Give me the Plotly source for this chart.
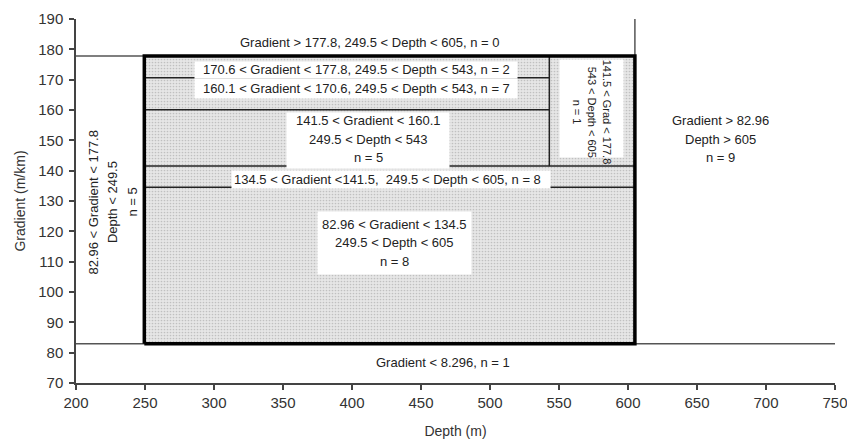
import plotly.graph_objects as go

# ---- data (region boundaries) ----
depth_min, depth_max = 200, 750
grad_min, grad_max = 70, 190
depth_edges = [249.5, 543, 605]          # box left, inner split, box right
grad_edges = [82.96, 134.5, 141.5, 160.1, 170.6, 177.8]

x_ticks = [200, 250, 300, 350, 400, 450, 500, 550, 600, 650, 700, 750]
y_ticks = [70, 80, 90, 100, 110, 120, 130, 140, 150, 160, 170, 180, 190]

labels = [
    # (lines, x, y, angle, font size, line gap px)
    (["Gradient > 177.8, 249.5 < Depth < 605, n = 0"], 413, 182.4, 0, 13, 18.5),
    (["170.6 < Gradient < 177.8, 249.5 < Depth < 543, n = 2"], 403, 173.3, 0, 13, 18.5),
    (["160.1 < Gradient < 170.6, 249.5 < Depth < 543, n = 7"], 403, 167.0, 0, 13, 18.5),
    (["141.5 < Gradient < 160.1", "249.5 < Depth < 543", "n = 5"], 411.6, 150.4, 0, 13, 18.5),
    (["134.5 < Gradient <141.5,  249.5 < Depth < 605, n = 8"], 426, 137.0, 0, 13, 18.5),
    (["82.96 < Gradient < 134.5", "249.5 < Depth < 605", "n = 8"], 431, 116.2, 0, 13, 18.5),
    (["141.5 < Grad < 177.8", "543 < Depth < 605", "n = 1"], 573.5, 159.3, 90, 11, 15),
    (["Gradient > 82.96", "Depth > 605", "n = 9"], 666.7, 150.4, 0, 13, 18.5),
    (["Gradient < 8.296, n = 1"], 466, 76.9, 0, 13, 18.5),
    (["82.96 < Gradient < 177.8", "Depth < 249.5", "n = 5"], 226.5, 129.5, -90, 13, 19.5),
]
# white label backgrounds: (x, y, width px, height px)
label_boxes = [
    (403, 173.3, 322, 16),
    (403, 167.0, 322, 19),
    (411.6, 150.0, 162, 55),
    (428, 137.0, 318, 17),
    (431, 116.2, 153, 62),
    (573.5, 160.6, 63, 97),
]

fig = go.Figure()

x0, xs, x1 = depth_edges
g0, g1, g2, g3, g4, g5 = grad_edges

# stippled box fill
fig.add_trace(go.Scatter(
    x=[x0, x1, x1, x0, x0], y=[g0, g0, g5, g5, g0],
    fill="toself", mode="none",
    fillcolor="#dcdcdc",
    fillpattern=dict(shape=".", bgcolor="#e6e6e6", fgcolor="#9a9a9a",
                     size=3, solidity=0.25),
    hoverinfo="skip", showlegend=False))

def seg(xa, ya, color, width):
    fig.add_trace(go.Scatter(x=xa, y=ya, mode="lines",
                             line=dict(color=color, width=width),
                             hoverinfo="skip", showlegend=False))

# outer thin lines
seg([depth_min, x1], [g5, g5], "#555555", 1.5)
seg([x1, x1], [g5, grad_max], "#555555", 1.5)
seg([depth_min, depth_max], [g0, g0], "#555555", 1.5)
# inner split lines
seg([x0, xs], [g4, g4], "#222222", 1.5)
seg([x0, xs], [g3, g3], "#222222", 1.5)
seg([x0, x1], [g2, g2], "#222222", 1.5)
seg([x0, x1], [g1, g1], "#222222", 1.5)
seg([xs, xs], [g2, g5], "#222222", 1.5)
# thick outline
seg([x0, x1, x1, x0, x0], [g0, g0, g5, g5, g0], "#000000", 3.5)

ann = []
for bx, by, w, h in label_boxes:
    ann.append(dict(x=bx, y=by, xref="x", yref="y", text=" ", showarrow=False,
                    width=w, height=h, bgcolor="white", borderpad=0,
                    font=dict(size=2)))

for lines, lx, ly, ang, fs, gap in labels:
    n = len(lines)
    for i, t in enumerate(lines):
        off = (i - (n - 1) / 2) * gap
        d = dict(x=lx, y=ly, xref="x", yref="y", text=t, showarrow=False,
                 font=dict(family="Liberation Sans, Arial", size=fs, color="#222222"),
                 textangle=ang)
        if ang == 0:
            d["yshift"] = -off
        elif ang == 90:
            d["xshift"] = -off
        else:
            d["xshift"] = off
        ann.append(d)

fig.update_layout(
    width=847, height=439,
    margin=dict(l=76, r=12, t=19, b=56),
    paper_bgcolor="white", plot_bgcolor="white",
    font=dict(family="Liberation Sans, Arial", color="#333333"),
    annotations=ann,
    xaxis=dict(range=[depth_min, depth_max], tickvals=x_ticks,
               showgrid=False, zeroline=False, showline=True, automargin=False,
               linecolor="#444444", linewidth=1.5, ticks="outside",
               ticklen=5, tickwidth=1.5, tickcolor="#444444",
               ticklabeloverflow="allow",
               tickfont=dict(size=15, color="#333333"),
               title=dict(text="Depth (m)", font=dict(size=14, color="#333333"),
                          standoff=16)),
    yaxis=dict(range=[grad_min, grad_max], tickvals=y_ticks,
               showgrid=False, zeroline=False, showline=True, automargin=False,
               linecolor="#444444", linewidth=1.5, ticks="outside",
               ticklen=5, tickwidth=1.5, tickcolor="#444444",
               ticklabelstandoff=3, ticklabeloverflow="allow",
               tickfont=dict(size=15, color="#333333"),
               title=dict(text="Gradient (m/km)", font=dict(size=14, color="#333333"),
                          standoff=9)),
)

fig.write_html("out.html", config={"displayModeBar": False},
               post_script="document.body.style.margin='0';document.body.style.overflow='hidden';")
